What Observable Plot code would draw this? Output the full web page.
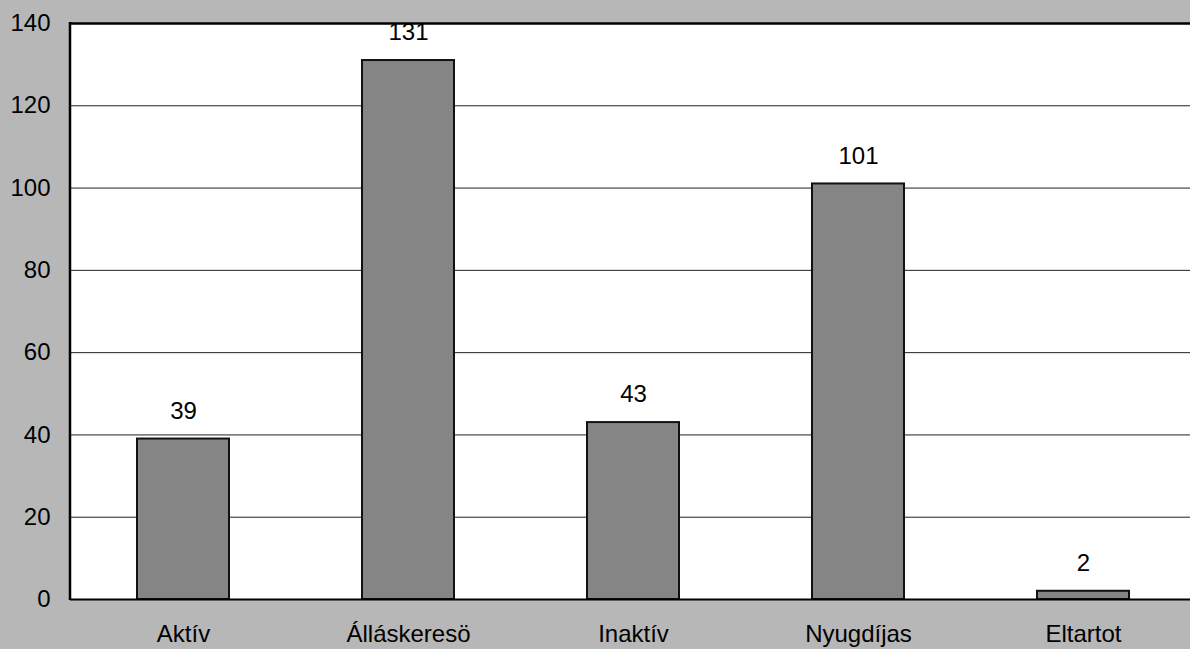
<!DOCTYPE html>
<html>
<head>
<meta charset="utf-8">
<script src="https://cdn.jsdelivr.net/npm/d3@7"></script>
<script src="https://cdn.jsdelivr.net/npm/@observablehq/plot@0.6"></script>
<style>
  html, body { margin: 0; padding: 0; overflow: hidden; background: #b7b7b7; }
  #chart svg { display: block; background: transparent; overflow: hidden; }
</style>
</head>
<body>
<div id="chart"></div>
<script>
const categories = ["Aktív", "Álláskeresö", "Inaktív", "Nyugdíjas", "Eltartot"];
const values = [39, 131, 43, 101, 2];
const yTicks = [0, 20, 40, 60, 80, 100, 120, 140];

const data = categories.map((c, i) => ({category: c, value: values[i]}));

const chart = Plot.plot({
  width: 1190,
  height: 649,
  marginTop: 23,
  marginBottom: 50,
  marginLeft: 70,
  marginRight: 0,
  style: {fontFamily: "'Liberation Sans', Arial, sans-serif", fontSize: "24px", color: "#000", background: "transparent"},
  x: {domain: categories, range: [70, 1197], paddingInner: 0.59, paddingOuter: 0.295, label: null},
  y: {domain: [0, 140], ticks: yTicks, label: null},
  marks: [
    Plot.frame({fill: "white", stroke: "none"}),
    Plot.ruleY(yTicks.filter(d => d > 0 && d < 140), {stroke: "#222", strokeWidth: 1}),
    Plot.ruleY([140], {stroke: "#000", strokeWidth: 2.5}),
    Plot.barY(data, {x: "category", y: "value", fill: "#858585", stroke: "#111", strokeWidth: 2}),
    Plot.text(data, {x: "category", y: "value", text: d => String(d.value), dy: -28, fontSize: 24, fill: "#000"}),
    Plot.ruleY([0], {stroke: "#000", strokeWidth: 2}),
    Plot.axisY({ticks: yTicks, tickSize: 0, tickPadding: 20, fontSize: 24}),
    Plot.axisX({tickSize: 0, tickPadding: 25, fontSize: 24})
  ]
});

// left axis line
const svg = d3.select(chart);
svg.append("line")
  .attr("x1", 70).attr("x2", 70)
  .attr("y1", 22).attr("y2", 600)
  .attr("stroke", "#000").attr("stroke-width", 2.5);

document.getElementById("chart").appendChild(chart);
</script>
</body>
</html>
